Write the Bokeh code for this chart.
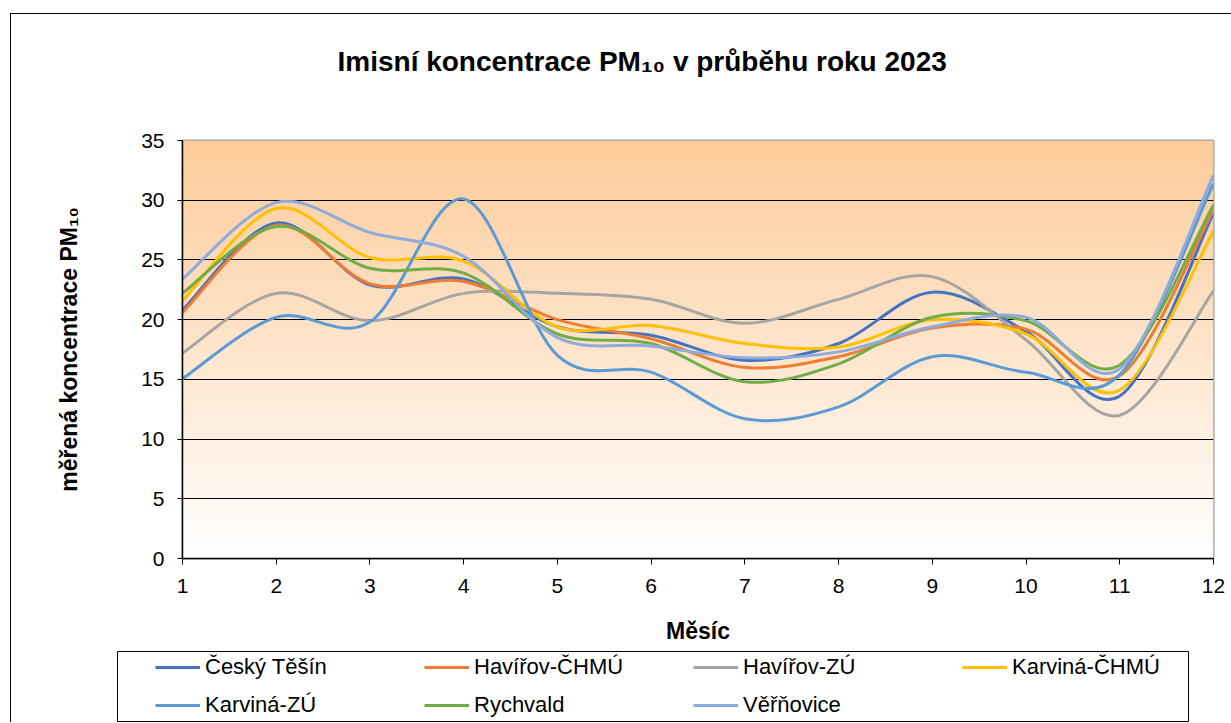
import numpy as np
from bokeh.plotting import figure
from bokeh.layouts import column
from bokeh.models import Legend, LegendItem, FixedTicker, Range1d, Title
from bokeh.embed import file_html
from bokeh.resources import INLINE

months = [1, 2, 3, 4, 5, 6, 7, 8, 9, 10, 11, 12]
names = ["Český Těšín", "Havířov-ČHMÚ", "Havířov-ZÚ", "Karviná-ČHMÚ",
         "Karviná-ZÚ", "Rychvald", "Věřňovice"]
cesky_tesin = [20.8, 28.1, 22.9, 23.4, 19.4, 18.7, 16.6, 18.0, 22.3, 19.0, 13.6, 28.9]
havirov_chmu = [20.6, 27.9, 23.0, 23.2, 20.0, 18.4, 16.0, 16.9, 19.3, 19.2, 15.3, 29.2]
havirov_zu = [17.2, 22.2, 19.9, 22.2, 22.2, 21.7, 19.7, 21.7, 23.6, 18.3, 12.0, 22.4]
karvina_chmu = [21.6, 29.3, 25.2, 24.9, 19.4, 19.5, 18.0, 17.7, 20.0, 18.8, 14.1, 27.4]
karvina_zu = [15.05, 20.2, 19.8, 30.1, 17.0, 15.6, 11.7, 12.7, 16.9, 15.6, 15.4, 31.4]
rychvald = [22.2, 27.8, 24.3, 23.9, 18.8, 18.0, 14.8, 16.3, 20.2, 19.9, 16.2, 29.6]
verenovice = [23.4, 29.8, 27.3, 25.3, 18.5, 17.8, 16.8, 17.3, 19.4, 20.2, 15.9, 32.1]
series = [cesky_tesin, havirov_chmu, havirov_zu, karvina_chmu, karvina_zu, rychvald, verenovice]
colors = ["#4472C4", "#ED7D31", "#A5A5A5", "#FFC000", "#5B9BD5", "#70AD47", "#8FAADC"]
yticks = [0, 5, 10, 15, 20, 25, 30, 35]

FONT = "Liberation Sans"


def smooth_segments(xv, yv):
    """Excel-like smoothing: Catmull-Rom control points for cubic Bezier segments."""
    x = np.array(xv, dtype=float)
    y = np.array(yv, dtype=float)
    m = len(x)
    d = dict(x0=[], y0=[], x1=[], y1=[], cx0=[], cy0=[], cx1=[], cy1=[])
    for i in range(m - 1):
        ip = max(i - 1, 0)
        inn = min(i + 2, m - 1)
        d["x0"].append(x[i]); d["y0"].append(y[i])
        d["x1"].append(x[i + 1]); d["y1"].append(y[i + 1])
        d["cx0"].append(x[i] + (x[i + 1] - x[ip]) / 6)
        d["cy0"].append(y[i] + (y[i + 1] - y[ip]) / 6)
        d["cx1"].append(x[i + 1] - (x[inn] - x[i]) / 6)
        d["cy1"].append(y[i + 1] - (y[inn] - y[i]) / 6)
    return d


# ---------------- main chart ----------------
p = figure(width=1220, height=637, output_backend="svg", toolbar_location=None,
           x_range=Range1d(1, 12), y_range=Range1d(0, 35),
           min_border_left=171, min_border_right=18, min_border_top=126, min_border_bottom=93)
p.frame_align = False

# gradient background of the plot area
n = 350
t = np.linspace(0, 1, n)
top = np.array([253, 204, 154])
bot = np.array([255, 255, 255])
rgb = bot[None, :] + (top - bot)[None, :] * t[:, None]
img = np.zeros((n, 1), dtype=np.uint32)
view = img.view(dtype=np.uint8).reshape((n, 1, 4))
view[:, 0, 0] = rgb[:, 0].astype(np.uint8)
view[:, 0, 1] = rgb[:, 1].astype(np.uint8)
view[:, 0, 2] = rgb[:, 2].astype(np.uint8)
view[:, 0, 3] = 255
bg = p.image_rgba(image=[img], x=1, y=0, dw=11, dh=35)
bg.level = "image"

for vals, col in zip(series, colors):
    p.bezier(line_color=col, line_width=3, **smooth_segments(months, vals))

p.xaxis.ticker = FixedTicker(ticks=months)
p.yaxis.ticker = FixedTicker(ticks=yticks)
for ax in (p.xaxis[0], p.yaxis[0]):
    ax.axis_line_color = "black"
    ax.axis_line_width = 1.5
    ax.major_tick_line_color = "black"
    ax.major_tick_in = 0
    ax.minor_tick_line_color = None
    ax.major_label_text_font = FONT
    ax.major_label_text_font_size = "21px"
    ax.major_label_text_color = "black"
    ax.axis_label_text_font = FONT
    ax.axis_label_text_font_style = "bold"
    ax.axis_label_text_font_size = "23px"
    ax.axis_label_text_color = "black"
p.xaxis.major_tick_out = 6
p.yaxis.major_tick_out = 5
p.xaxis.major_label_standoff = 14
p.yaxis.major_label_standoff = 13
p.xaxis.axis_label = "Měsíc"
p.yaxis.axis_label = "měřená koncentrace PM₁₀"
p.xaxis.axis_label_standoff = 22
p.yaxis.axis_label_standoff = 56

p.xgrid.grid_line_color = None
p.ygrid.grid_line_color = "black"
p.ygrid.grid_line_width = 1
p.outline_line_color = "#A0A0A0"
p.outline_line_width = 2
p.background_fill_color = "white"
p.border_fill_color = "white"

# chart title, with an empty spacer title between it and the plot area
p.title.text = "Imisní koncentrace PM₁₀ v průběhu roku 2023"
p.title.text_font = FONT
p.title.text_font_size = "28px"
p.title.text_font_style = "bold"
p.title.text_color = "black"
p.title.align = "left"
p.title.offset = 155
p.title.standoff = 42
p.add_layout(Title(text=" ", text_font_size="1px", standoff=40), "above")

# ---------------- legend strip ----------------
p2 = figure(width=1220, height=71, output_backend="svg", toolbar_location=None,
            x_range=Range1d(-10, -9), y_range=Range1d(0, 35),
            x_axis_location=None, y_axis_location=None,
            min_border_left=106, min_border_right=43, min_border_top=0, min_border_bottom=1)
p2.frame_align = False
p2.grid.visible = False
p2.outline_line_color = "black"
p2.outline_line_width = 1
p2.background_fill_color = "white"
p2.border_fill_color = "white"

items = []
for name, vals, col in zip(names, series, colors):
    r = p2.bezier(line_color=col, line_width=3, **smooth_segments(months, vals))
    items.append(LegendItem(label=name, renderers=[r]))

legend = Legend(items=items, orientation="horizontal", ncols=4, location=(38, 3),
                glyph_width=45, glyph_height=20, label_standoff=5, label_width=207,
                label_height=20, padding=0, spacing=12, margin=0,
                label_text_font=FONT, label_text_font_size="22px", label_text_color="black",
                border_line_color=None, background_fill_alpha=0)
p2.add_layout(legend, "center")

layout = column(p, p2, spacing=0,
                styles={"border-left": "1px solid black", "border-top": "1px solid black",
                        "margin-left": "10px", "margin-top": "13px"})

open("out.html", "w").write(file_html(layout, INLINE))
